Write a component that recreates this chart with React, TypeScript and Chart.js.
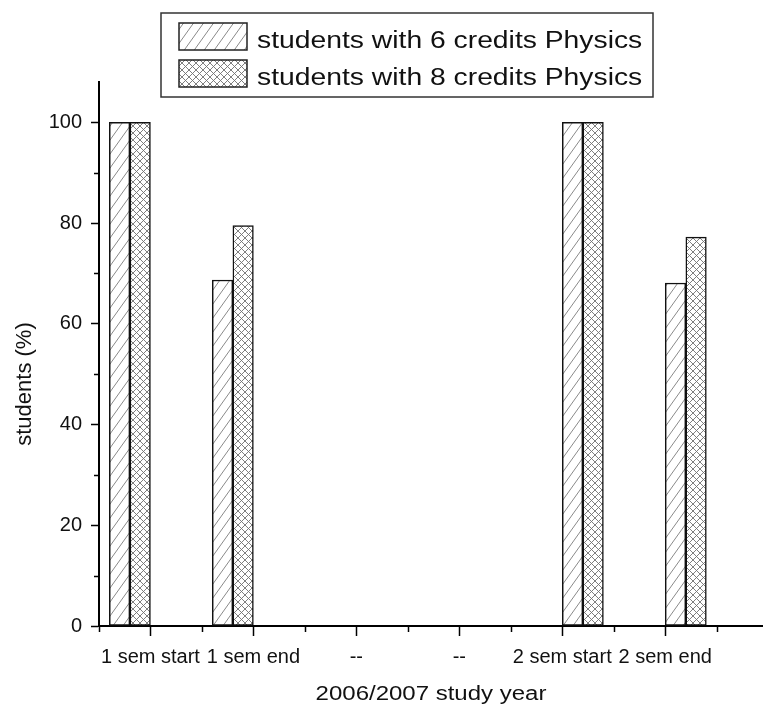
import { useEffect, useRef } from 'react';
import { Chart, registerables } from 'chart.js';

Chart.register(...registerables);

// Category axis of the study year (positions 1..6 on a linear scale)
const categories = ['1 sem start', '1 sem end', '--', '--', '2 sem start', '2 sem end'];
const categoryPositions = [1, 2, 3, 4, 5, 6];
// Where each pair of bars sits on the x scale (null: no bars in that slot)
const pairCentres: (number | null)[] = [0.8, 1.8, null, null, 5.2, 6.2];
const pairOffset = 0.1;

// Share of students (%)
const sixCredits: (number | null)[] = [100, 68.7, null, null, 100, 68.1];
const eightCredits: (number | null)[] = [100, 79.5, null, null, 100, 77.2];
const seriesNames = ['students with 6 credits Physics', 'students with 8 credits Physics'];

const yMajorTicks = [0, 20, 40, 60, 80, 100];
const yMinorTicks = [10, 30, 50, 70, 90];
const xMinorTicks = [0.5, 1.5, 2.5, 3.5, 4.5, 5.5, 6.5];

const xTitle = '2006/2007 study year';
const yTitle = 'students (%)';

const FONT = '"Liberation Sans", Arial, sans-serif';

function makeHatch(): CanvasPattern | string {
  const w = 10;
  const h = 14;
  const c = document.createElement('canvas');
  c.width = w;
  c.height = h;
  const g = c.getContext('2d');
  if (!g) return '#fff';
  g.fillStyle = '#fff';
  g.fillRect(0, 0, w, h);
  g.strokeStyle = '#8a8a8a';
  g.lineWidth = 1;
  for (const dx of [-w, 0, w]) {
    g.beginPath();
    g.moveTo(dx, h);
    g.lineTo(dx + w, 0);
    g.stroke();
  }
  return g.createPattern(c, 'repeat') ?? '#fff';
}

function makeCross(): CanvasPattern | string {
  const s = 7;
  const c = document.createElement('canvas');
  c.width = s;
  c.height = s;
  const g = c.getContext('2d');
  if (!g) return '#fff';
  g.fillStyle = '#fff';
  g.fillRect(0, 0, s, s);
  g.strokeStyle = '#707070';
  g.lineWidth = 0.9;
  for (const dx of [-s, 0, s]) {
    g.beginPath();
    g.moveTo(dx, s);
    g.lineTo(dx + s, 0);
    g.stroke();
    g.beginPath();
    g.moveTo(dx, 0);
    g.lineTo(dx + s, s);
    g.stroke();
  }
  return g.createPattern(c, 'repeat') ?? '#fff';
}

function pairData(values: (number | null)[], shift: number) {
  const out: { x: number; y: number }[] = [];
  values.forEach((v, i) => {
    const c = pairCentres[i];
    if (v != null && c != null) out.push({ x: c + shift, y: v });
  });
  return out;
}

export default function App() {
  const ref = useRef<HTMLCanvasElement | null>(null);

  useEffect(() => {
    if (!ref.current) return;
    const hatch = makeHatch();
    const cross = makeCross();
    const fills = [hatch, cross];

    // Minor ticks on both axes
    const minorTicks = {
      id: 'minorTicks',
      afterDraw(chart: any) {
        const { ctx, chartArea, scales } = chart;
        ctx.save();
        ctx.strokeStyle = '#000';
        ctx.lineWidth = 1.5;
        for (const v of xMinorTicks) {
          const px = Math.round(scales.x.getPixelForValue(v)) + 0.5;
          ctx.beginPath();
          ctx.moveTo(px, chartArea.bottom);
          ctx.lineTo(px, chartArea.bottom + 6);
          ctx.stroke();
        }
        for (const v of yMinorTicks) {
          const py = Math.round(scales.y.getPixelForValue(v)) + 0.5;
          ctx.beginPath();
          ctx.moveTo(chartArea.left - 5, py);
          ctx.lineTo(chartArea.left, py);
          ctx.stroke();
        }
        ctx.restore();
      },
    };

    // Axis titles
    const axisTitles = {
      id: 'axisTitles',
      afterDraw(chart: any) {
        const { ctx, chartArea } = chart;
        ctx.save();
        ctx.fillStyle = '#111';
        ctx.textAlign = 'center';
        ctx.textBaseline = 'alphabetic';
        // x title, slightly widened
        ctx.font = `20px ${FONT}`;
        ctx.save();
        ctx.translate((chartArea.left + chartArea.right) / 2, 700);
        ctx.scale(1.2, 1);
        ctx.fillText(xTitle, 0, 0);
        ctx.restore();
        // y title
        ctx.font = `22px ${FONT}`;
        ctx.save();
        ctx.translate(31, 384);
        ctx.rotate(-Math.PI / 2);
        ctx.fillText(yTitle, 0, 0);
        ctx.restore();
        ctx.restore();
      },
    };

    // Boxed legend with pattern swatches
    const boxLegend = {
      id: 'boxLegend',
      afterDraw(chart: any) {
        const { ctx } = chart;
        ctx.save();
        ctx.strokeStyle = '#333';
        ctx.lineWidth = 1.5;
        ctx.strokeRect(161, 13, 492, 84);
        const rows = [23, 60];
        rows.forEach((top, i) => {
          ctx.fillStyle = fills[i];
          ctx.fillRect(179, top, 68, 27);
          ctx.strokeStyle = '#222';
          ctx.lineWidth = 1.5;
          ctx.strokeRect(179, top, 68, 27);
          ctx.fillStyle = '#111';
          ctx.font = `23px ${FONT}`;
          ctx.textAlign = 'left';
          ctx.textBaseline = 'alphabetic';
          ctx.save();
          ctx.translate(257, top + 24.5);
          ctx.scale(1.23, 1);
          ctx.fillText(seriesNames[i], 0, 0);
          ctx.restore();
        });
        ctx.restore();
      },
    };

    const chart = new Chart(ref.current, {
      type: 'bar',
      data: {
        datasets: [
          {
            label: seriesNames[0],
            data: pairData(sixCredits, -pairOffset),
            backgroundColor: hatch as any,
            borderColor: '#111',
            borderWidth: 1.5,
            borderSkipped: false,
            barThickness: 20.5,
            grouped: false,
          },
          {
            label: seriesNames[1],
            data: pairData(eightCredits, pairOffset),
            backgroundColor: cross as any,
            borderColor: '#111',
            borderWidth: 1.5,
            borderSkipped: false,
            barThickness: 20.5,
            grouped: false,
          },
        ],
      },
      options: {
        responsive: false,
        animation: false,
        devicePixelRatio: 1,
        layout: { padding: { top: 82, right: 0, bottom: 0, left: 0 } },
        plugins: {
          legend: { display: false },
          tooltip: { enabled: false },
        },
        scales: {
          x: {
            type: 'linear',
            offset: false,
            min: 0.5,
            max: 6.95,
            border: { display: true, color: '#000', width: 2 },
            grid: {
              display: true,
              offset: false,
              drawOnChartArea: false,
              drawTicks: true,
              tickLength: 10,
              tickWidth: 1.5,
              tickColor: '#000',
            },
            ticks: {
              autoSkip: false,
              maxRotation: 0,
              padding: 9,
              color: '#111',
              font: { family: FONT, size: 20 },
              callback: (v: any) => {
                const i = categoryPositions.indexOf(Number(v));
                return i >= 0 ? categories[i] : '';
              },
            },
            afterBuildTicks: (scale: any) => {
              scale.ticks = categoryPositions.map((v) => ({ value: v }));
            },
            afterFit: (scale: any) => {
              scale.height = 84;
            },
          },
          y: {
            min: 0,
            max: 108,
            border: { display: true, color: '#000', width: 2 },
            grid: {
              display: true,
              drawOnChartArea: false,
              drawTicks: true,
              tickLength: 8,
              tickWidth: 1.5,
              tickColor: '#000',
            },
            ticks: {
              padding: 9,
              color: '#111',
              font: { family: FONT, size: 20 },
            },
            afterBuildTicks: (scale: any) => {
              scale.ticks = yMajorTicks.map((v) => ({ value: v }));
            },
            afterFit: (scale: any) => {
              scale.width = 99;
            },
          },
        },
      },
      plugins: [minorTicks, axisTitles, boxLegend],
    });

    return () => chart.destroy();
  }, []);

  return (
    <canvas
      ref={ref}
      width={763}
      height={710}
      style={{ position: 'fixed', left: 0, top: 0, background: '#fff' }}
    />
  );
}
